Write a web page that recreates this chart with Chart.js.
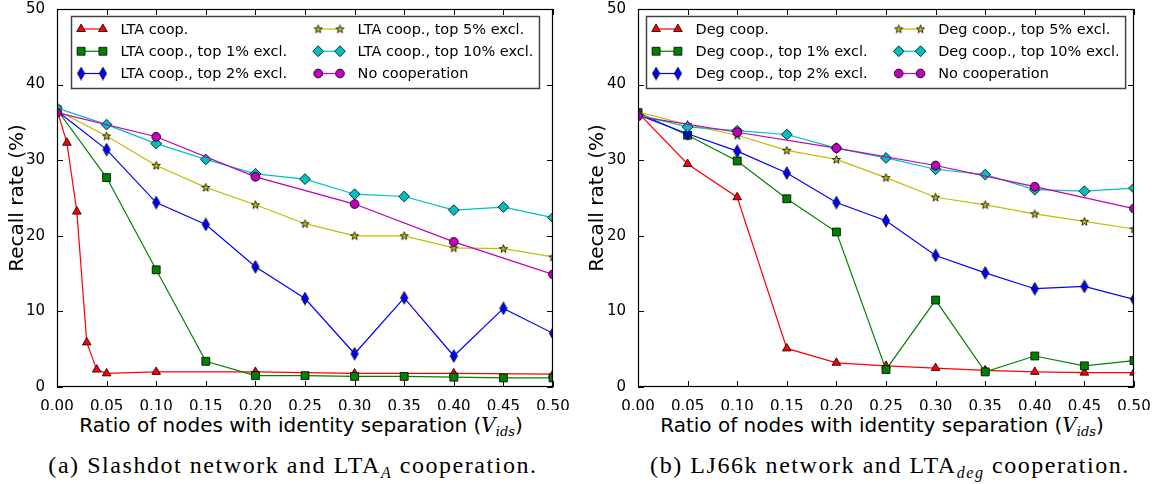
<!DOCTYPE html>
<html>
<head>
<meta charset="utf-8">
<script src="https://cdn.jsdelivr.net/npm/chart.js@4.4.1/dist/chart.umd.min.js"></script>
<style>
  body { margin: 0; background: #fff; width: 1161px; height: 484px; position: relative; overflow: hidden; font-family: 'DejaVu Sans', sans-serif; color: #000; }
  canvas.plot { position: absolute; top: 0; }
  .xtitle { position: absolute; top: 413px; font-size: 20px; line-height: 24px; white-space: nowrap; transform: translateX(-50%); }
  .xtitle .m { font-family: 'DejaVu Serif', serif; font-style: italic; }
  .xtitle sub { font-size: 13px; vertical-align: -4px; font-family: 'DejaVu Serif', serif; font-style: italic; }
  .caption { position: absolute; top: 450px; font-family: 'Liberation Serif', serif; font-size: 24px; line-height: 30px; white-space: nowrap; transform: translateX(-50%); letter-spacing: 1.55px; }
  .caption sub { font-size: 16px; vertical-align: -5px; }
  .caption sub i { font-style: italic; }
</style>
</head>
<body>
<canvas id="slashdot" class="plot" width="580" height="410" style="left:0"></canvas>
<canvas id="lj66k" class="plot" width="581" height="410" style="left:580px"></canvas>

<div class="xtitle" style="left:301px">Ratio of nodes with identity separation (<span class="m">V</span><sub>ids</sub>)</div>
<div class="xtitle" style="left:882px">Ratio of nodes with identity separation (<span class="m">V</span><sub>ids</sub>)</div>
<div class="caption" style="left:293px">(a) Slashdot network and LTA<sub><i>A</i></sub> cooperation.</div>
<div class="caption" style="left:890px">(b) LJ66k network and LTA<sub><i>deg</i></sub> cooperation.</div>

<script>
'use strict';

// x positions (ratio of nodes with identity separation)
var ratioSteps = [0, 0.05, 0.10, 0.15, 0.20, 0.25, 0.30, 0.35, 0.40, 0.45, 0.50];
var ratioFine = [0, 0.01, 0.02, 0.03, 0.04, 0.05, 0.10, 0.20, 0.30, 0.40, 0.50];
var ratioCoarse = [0, 0.10, 0.20, 0.30, 0.40, 0.50];

var xTicks = [0, 0.05, 0.10, 0.15, 0.20, 0.25, 0.30, 0.35, 0.40, 0.45, 0.50];
var yTicks = [0, 10, 20, 30, 40, 50];

// Slashdot, LTA_A cooperation (recall rate, %)
var ltaCoop = [36.7, 32.3, 23.2, 5.9, 2.3, 1.8, 2.0, 2.0, 1.8, 1.8, 1.7];
var ltaTop1 = [36.7, 27.7, 15.5, 3.4, 1.5, 1.5, 1.4, 1.4, 1.3, 1.2, 1.2];
var ltaTop2 = [36.5, 31.4, 24.4, 21.5, 15.9, 11.7, 4.4, 11.8, 4.1, 10.4, 7.1];
var ltaTop5 = [36.6, 33.2, 29.3, 26.4, 24.1, 21.6, 20.0, 20.0, 18.4, 18.3, 17.2];
var ltaTop10 = [36.9, 34.7, 32.2, 30.1, 28.2, 27.5, 25.5, 25.2, 23.4, 23.8, 22.4];
var ltaNone = [36.3, 33.1, 27.8, 24.2, 19.2, 14.9];

// LJ66k, LTA_deg cooperation (recall rate, %)
var degCoop = [36.3, 29.5, 25.1, 5.1, 3.2, 2.8, 2.5, 2.2, 2.0, 1.9, 1.9];
var degTop1 = [36.3, 33.3, 29.9, 24.9, 20.5, 2.3, 11.5, 2.0, 4.1, 2.8, 3.5];
var degTop2 = [36.0, 33.5, 31.2, 28.3, 24.4, 22.0, 17.4, 15.1, 13.0, 13.3, 11.6];
var degTop5 = [36.4, 34.7, 33.3, 31.3, 30.1, 27.7, 25.1, 24.1, 22.9, 21.9, 20.9];
var degTop10 = [36.0, 34.4, 33.9, 33.4, 31.6, 30.3, 28.8, 28.1, 26.1, 25.9, 26.3];
var degNone = [35.8, 33.7, 31.6, 29.3, 26.5, 23.6];

var RED = '#ff0000', GREEN = '#008000', BLUE = '#0000ff',
    YELLOW = '#bfbf00', CYAN = '#00bfbf', MAGENTA = '#bf00bf';

Chart.defaults.font.family = "'DejaVu Sans', sans-serif";
Chart.defaults.color = '#000';

// marker images for shapes Chart.js doesn't have
function thinDiamond(color) {
  var c = document.createElement('canvas');
  c.width = 10; c.height = 14;
  var g = c.getContext('2d');
  g.beginPath();
  g.moveTo(5, 0.7); g.lineTo(8.6, 7); g.lineTo(5, 13.3); g.lineTo(1.4, 7);
  g.closePath();
  g.fillStyle = color; g.fill();
  g.lineWidth = 0.8; g.strokeStyle = '#000'; g.stroke();
  return c;
}

function star(color) {
  var c = document.createElement('canvas');
  c.width = 11; c.height = 11;
  var g = c.getContext('2d');
  g.beginPath();
  for (var i = 0; i < 10; i++) {
    var r = i % 2 ? 1.8 : 4.3;
    var a = -Math.PI / 2 + i * Math.PI / 5;
    g.lineTo(5.5 + r * Math.cos(a), 5.8 + r * Math.sin(a));
  }
  g.closePath();
  g.fillStyle = color; g.fill();
  g.lineWidth = 0.8; g.strokeStyle = '#000'; g.stroke();
  return c;
}

function series(label, xs, ys, color, style, radius, order) {
  return {
    label: label,
    data: xs.map(function (x, i) { return { x: x, y: ys[i] }; }),
    borderColor: color,
    backgroundColor: color,
    borderWidth: 1.2,
    pointStyle: style,
    pointRadius: radius,
    pointHoverRadius: radius,
    pointBackgroundColor: color,
    pointBorderColor: '#000',
    pointBorderWidth: 0.8,
    tension: 0,
    clip: 0,
    order: order
  };
}

// frame with inward ticks on all four sides, then the legend box
var framePlugin = {
  id: 'frame',
  afterDatasetsDraw: function (chart) {
    var ctx = chart.ctx, a = chart.chartArea;
    var xs = chart.scales.x, ys = chart.scales.y;
    ctx.save();
    ctx.strokeStyle = '#000';
    ctx.lineWidth = 1;
    ctx.beginPath();
    xTicks.forEach(function (v) {
      var px = Math.round(xs.getPixelForValue(v)) + 0.5;
      ctx.moveTo(px, a.bottom); ctx.lineTo(px, a.bottom - 6);
      ctx.moveTo(px, a.top); ctx.lineTo(px, a.top + 6);
    });
    yTicks.forEach(function (v) {
      var py = Math.round(ys.getPixelForValue(v)) + 0.5;
      ctx.moveTo(a.left, py); ctx.lineTo(a.left + 6, py);
      ctx.moveTo(a.right, py); ctx.lineTo(a.right - 6, py);
    });
    ctx.stroke();
    ctx.lineWidth = 1.2;
    ctx.strokeRect(a.left + 0.5, a.top + 0.5, a.right - a.left - 1, a.bottom - a.top - 1);
    ctx.restore();
    drawLegend(chart);
  }
};

function drawLegend(chart) {
  var ctx = chart.ctx, a = chart.chartArea;
  var sets = chart.data.datasets;
  ctx.save();
  ctx.font = "14.5px 'DejaVu Sans'";
  var colW = [0, 0];
  sets.forEach(function (d, i) {
    var c = Math.floor(i / 3);
    colW[c] = Math.max(colW[c], ctx.measureText(d.label).width);
  });
  var padL = 9.6, handle = 21.8, gap = 17.6, colSpace = 31, padR = 6;
  var boxW = padL + handle + gap + colW[0] + colSpace + handle + gap + colW[1] + padR;
  var boxX = Math.round((a.left + a.right) / 2 - boxW / 2) + 0.5;
  var boxY = a.top + 7.5, boxH = 72;
  ctx.fillStyle = '#fff';
  ctx.fillRect(boxX, boxY, boxW, boxH);
  ctx.strokeStyle = '#444';
  ctx.lineWidth = 1.5;
  ctx.strokeRect(boxX, boxY, boxW, boxH);

  sets.forEach(function (d, i) {
    var c = Math.floor(i / 3), r = i % 3;
    var x0 = boxX + padL + (c ? handle + gap + colW[0] + colSpace : 0);
    var y = a.top + 20 + r * 22.25;
    ctx.strokeStyle = d.borderColor;
    ctx.lineWidth = 1.2;
    ctx.beginPath();
    ctx.moveTo(x0, y); ctx.lineTo(x0 + handle, y);
    ctx.stroke();
    var opts = { pointStyle: d.pointStyle, radius: d.pointRadius, rotation: 0, borderWidth: d.pointBorderWidth };
    [x0, x0 + handle].forEach(function (mx) {
      ctx.fillStyle = d.pointBackgroundColor;
      ctx.strokeStyle = '#000';
      ctx.lineWidth = d.pointBorderWidth;
      Chart.helpers.drawPoint(ctx, opts, mx, y);
    });
    ctx.fillStyle = '#000';
    ctx.textBaseline = 'middle';
    ctx.textAlign = 'left';
    ctx.fillText(d.label, x0 + handle + gap, y + 1);
  });
  ctx.restore();
}

function makeOptions(axisWidth) {
  return {
    responsive: false,
    animation: false,
    events: [],
    layout: { padding: { left: 0, top: 9, right: 27, bottom: 0 } },
    plugins: { legend: { display: false }, tooltip: { enabled: false } },
    scales: {
      x: {
        type: 'linear',
        min: 0,
        max: 0.5,
        afterBuildTicks: function (s) { s.ticks = xTicks.map(function (v) { return { value: v }; }); },
        afterFit: function (s) { s.height = 23; s.paddingLeft = 0; s.paddingRight = 0; },
        grid: { display: false },
        border: { display: false },
        ticks: {
          autoSkip: false,
          maxRotation: 0,
          padding: 3,
          font: { size: 15 },
          callback: function (v) { return Number(v).toFixed(2); }
        }
      },
      y: {
        min: 0,
        max: 50,
        afterBuildTicks: function (s) { s.ticks = yTicks.map(function (v) { return { value: v }; }); },
        afterFit: function (s) { s.width = axisWidth; s.paddingTop = 0; s.paddingBottom = 0; },
        grid: { display: false },
        border: { display: false },
        ticks: { padding: 4, font: { size: 15 } },
        title: { display: true, text: 'Recall rate (%)', font: { size: 20 }, padding: { top: 6, bottom: 0 } }
      }
    }
  };
}

if (document.getElementById('slashdot')) {
  new Chart(document.getElementById('slashdot').getContext('2d'), {
    type: 'line',
    data: {
      datasets: [
        series('LTA coop.', ratioFine, ltaCoop, RED, 'triangle', 5, 6),
        series('LTA coop., top 1% excl.', ratioSteps, ltaTop1, GREEN, 'rect', 5.6, 5),
        series('LTA coop., top 2% excl.', ratioSteps, ltaTop2, BLUE, thinDiamond(BLUE), 5, 4),
        series('LTA coop., top 5% excl.', ratioSteps, ltaTop5, YELLOW, star(YELLOW), 5, 3),
        series('LTA coop., top 10% excl.', ratioSteps, ltaTop10, CYAN, 'rectRot', 5.4, 2),
        series('No cooperation', ratioCoarse, ltaNone, MAGENTA, 'circle', 4.4, 1)
      ]
    },
    options: makeOptions(57),
    plugins: [framePlugin]
  });
}

if (document.getElementById('lj66k')) {
  new Chart(document.getElementById('lj66k').getContext('2d'), {
    type: 'line',
    data: {
      datasets: [
        series('Deg coop.', ratioSteps, degCoop, RED, 'triangle', 5, 6),
        series('Deg coop., top 1% excl.', ratioSteps, degTop1, GREEN, 'rect', 5.6, 5),
        series('Deg coop., top 2% excl.', ratioSteps, degTop2, BLUE, thinDiamond(BLUE), 5, 4),
        series('Deg coop., top 5% excl.', ratioSteps, degTop5, YELLOW, star(YELLOW), 5, 3),
        series('Deg coop., top 10% excl.', ratioSteps, degTop10, CYAN, 'rectRot', 5.4, 2),
        series('No cooperation', ratioCoarse, degNone, MAGENTA, 'circle', 4.4, 1)
      ]
    },
    options: makeOptions(58),
    plugins: [framePlugin]
  });
}
</script>
</body>
</html>
